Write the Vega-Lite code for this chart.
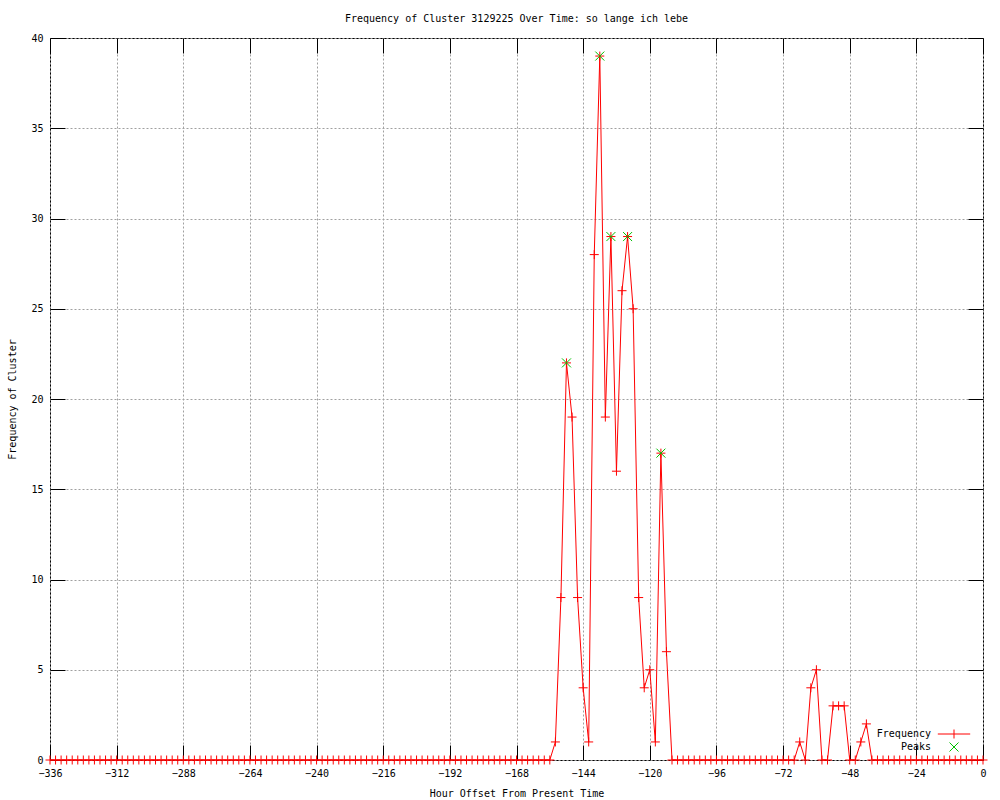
{
  "$schema": "https://vega.github.io/schema/vega-lite/v6.json",
  "width": 933,
  "height": 722,
  "autosize": {"type": "none"},
  "padding": {"left": 50, "top": 38, "right": 17, "bottom": 40},
  "background": "#ffffff",
  "title": {
    "text": "Frequency of Cluster 3129225 Over Time: so lange ich lebe",
    "font": "DejaVu Sans Mono",
    "fontSize": 10,
    "fontWeight": "normal",
    "color": "#000000",
    "anchor": "middle",
    "baseline": "middle",
    "offset": 4
  },
  "config": {
    "view": {"stroke": "#000000", "strokeWidth": 1},
    "font": "DejaVu Sans Mono",
    "axis": {
      "labelFont": "DejaVu Sans Mono",
      "labelFontSize": 10,
      "labelColor": "#000000",
      "titleFont": "DejaVu Sans Mono",
      "titleFontSize": 10,
      "titleFontWeight": "normal",
      "titleColor": "#000000",
      "domain": false,
      "tickColor": "#000000",
      "tickWidth": 1
    }
  },
  "data": {
    "values": [
      {"hour": -336, "count": 0, "series": "Frequency"},
      {"hour": -334, "count": 0, "series": "Frequency"},
      {"hour": -332, "count": 0, "series": "Frequency"},
      {"hour": -330, "count": 0, "series": "Frequency"},
      {"hour": -328, "count": 0, "series": "Frequency"},
      {"hour": -326, "count": 0, "series": "Frequency"},
      {"hour": -324, "count": 0, "series": "Frequency"},
      {"hour": -322, "count": 0, "series": "Frequency"},
      {"hour": -320, "count": 0, "series": "Frequency"},
      {"hour": -318, "count": 0, "series": "Frequency"},
      {"hour": -316, "count": 0, "series": "Frequency"},
      {"hour": -314, "count": 0, "series": "Frequency"},
      {"hour": -312, "count": 0, "series": "Frequency"},
      {"hour": -310, "count": 0, "series": "Frequency"},
      {"hour": -308, "count": 0, "series": "Frequency"},
      {"hour": -306, "count": 0, "series": "Frequency"},
      {"hour": -304, "count": 0, "series": "Frequency"},
      {"hour": -302, "count": 0, "series": "Frequency"},
      {"hour": -300, "count": 0, "series": "Frequency"},
      {"hour": -298, "count": 0, "series": "Frequency"},
      {"hour": -296, "count": 0, "series": "Frequency"},
      {"hour": -294, "count": 0, "series": "Frequency"},
      {"hour": -292, "count": 0, "series": "Frequency"},
      {"hour": -290, "count": 0, "series": "Frequency"},
      {"hour": -288, "count": 0, "series": "Frequency"},
      {"hour": -286, "count": 0, "series": "Frequency"},
      {"hour": -284, "count": 0, "series": "Frequency"},
      {"hour": -282, "count": 0, "series": "Frequency"},
      {"hour": -280, "count": 0, "series": "Frequency"},
      {"hour": -278, "count": 0, "series": "Frequency"},
      {"hour": -276, "count": 0, "series": "Frequency"},
      {"hour": -274, "count": 0, "series": "Frequency"},
      {"hour": -272, "count": 0, "series": "Frequency"},
      {"hour": -270, "count": 0, "series": "Frequency"},
      {"hour": -268, "count": 0, "series": "Frequency"},
      {"hour": -266, "count": 0, "series": "Frequency"},
      {"hour": -264, "count": 0, "series": "Frequency"},
      {"hour": -262, "count": 0, "series": "Frequency"},
      {"hour": -260, "count": 0, "series": "Frequency"},
      {"hour": -258, "count": 0, "series": "Frequency"},
      {"hour": -256, "count": 0, "series": "Frequency"},
      {"hour": -254, "count": 0, "series": "Frequency"},
      {"hour": -252, "count": 0, "series": "Frequency"},
      {"hour": -250, "count": 0, "series": "Frequency"},
      {"hour": -248, "count": 0, "series": "Frequency"},
      {"hour": -246, "count": 0, "series": "Frequency"},
      {"hour": -244, "count": 0, "series": "Frequency"},
      {"hour": -242, "count": 0, "series": "Frequency"},
      {"hour": -240, "count": 0, "series": "Frequency"},
      {"hour": -238, "count": 0, "series": "Frequency"},
      {"hour": -236, "count": 0, "series": "Frequency"},
      {"hour": -234, "count": 0, "series": "Frequency"},
      {"hour": -232, "count": 0, "series": "Frequency"},
      {"hour": -230, "count": 0, "series": "Frequency"},
      {"hour": -228, "count": 0, "series": "Frequency"},
      {"hour": -226, "count": 0, "series": "Frequency"},
      {"hour": -224, "count": 0, "series": "Frequency"},
      {"hour": -222, "count": 0, "series": "Frequency"},
      {"hour": -220, "count": 0, "series": "Frequency"},
      {"hour": -218, "count": 0, "series": "Frequency"},
      {"hour": -216, "count": 0, "series": "Frequency"},
      {"hour": -214, "count": 0, "series": "Frequency"},
      {"hour": -212, "count": 0, "series": "Frequency"},
      {"hour": -210, "count": 0, "series": "Frequency"},
      {"hour": -208, "count": 0, "series": "Frequency"},
      {"hour": -206, "count": 0, "series": "Frequency"},
      {"hour": -204, "count": 0, "series": "Frequency"},
      {"hour": -202, "count": 0, "series": "Frequency"},
      {"hour": -200, "count": 0, "series": "Frequency"},
      {"hour": -198, "count": 0, "series": "Frequency"},
      {"hour": -196, "count": 0, "series": "Frequency"},
      {"hour": -194, "count": 0, "series": "Frequency"},
      {"hour": -192, "count": 0, "series": "Frequency"},
      {"hour": -190, "count": 0, "series": "Frequency"},
      {"hour": -188, "count": 0, "series": "Frequency"},
      {"hour": -186, "count": 0, "series": "Frequency"},
      {"hour": -184, "count": 0, "series": "Frequency"},
      {"hour": -182, "count": 0, "series": "Frequency"},
      {"hour": -180, "count": 0, "series": "Frequency"},
      {"hour": -178, "count": 0, "series": "Frequency"},
      {"hour": -176, "count": 0, "series": "Frequency"},
      {"hour": -174, "count": 0, "series": "Frequency"},
      {"hour": -172, "count": 0, "series": "Frequency"},
      {"hour": -170, "count": 0, "series": "Frequency"},
      {"hour": -168, "count": 0, "series": "Frequency"},
      {"hour": -166, "count": 0, "series": "Frequency"},
      {"hour": -164, "count": 0, "series": "Frequency"},
      {"hour": -162, "count": 0, "series": "Frequency"},
      {"hour": -160, "count": 0, "series": "Frequency"},
      {"hour": -158, "count": 0, "series": "Frequency"},
      {"hour": -156, "count": 0, "series": "Frequency"},
      {"hour": -154, "count": 1, "series": "Frequency"},
      {"hour": -152, "count": 9, "series": "Frequency"},
      {"hour": -150, "count": 22, "series": "Frequency"},
      {"hour": -148, "count": 19, "series": "Frequency"},
      {"hour": -146, "count": 9, "series": "Frequency"},
      {"hour": -144, "count": 4, "series": "Frequency"},
      {"hour": -142, "count": 1, "series": "Frequency"},
      {"hour": -140, "count": 28, "series": "Frequency"},
      {"hour": -138, "count": 39, "series": "Frequency"},
      {"hour": -136, "count": 19, "series": "Frequency"},
      {"hour": -134, "count": 29, "series": "Frequency"},
      {"hour": -132, "count": 16, "series": "Frequency"},
      {"hour": -130, "count": 26, "series": "Frequency"},
      {"hour": -128, "count": 29, "series": "Frequency"},
      {"hour": -126, "count": 25, "series": "Frequency"},
      {"hour": -124, "count": 9, "series": "Frequency"},
      {"hour": -122, "count": 4, "series": "Frequency"},
      {"hour": -120, "count": 5, "series": "Frequency"},
      {"hour": -118, "count": 1, "series": "Frequency"},
      {"hour": -116, "count": 17, "series": "Frequency"},
      {"hour": -114, "count": 6, "series": "Frequency"},
      {"hour": -112, "count": 0, "series": "Frequency"},
      {"hour": -110, "count": 0, "series": "Frequency"},
      {"hour": -108, "count": 0, "series": "Frequency"},
      {"hour": -106, "count": 0, "series": "Frequency"},
      {"hour": -104, "count": 0, "series": "Frequency"},
      {"hour": -102, "count": 0, "series": "Frequency"},
      {"hour": -100, "count": 0, "series": "Frequency"},
      {"hour": -98, "count": 0, "series": "Frequency"},
      {"hour": -96, "count": 0, "series": "Frequency"},
      {"hour": -94, "count": 0, "series": "Frequency"},
      {"hour": -92, "count": 0, "series": "Frequency"},
      {"hour": -90, "count": 0, "series": "Frequency"},
      {"hour": -88, "count": 0, "series": "Frequency"},
      {"hour": -86, "count": 0, "series": "Frequency"},
      {"hour": -84, "count": 0, "series": "Frequency"},
      {"hour": -82, "count": 0, "series": "Frequency"},
      {"hour": -80, "count": 0, "series": "Frequency"},
      {"hour": -78, "count": 0, "series": "Frequency"},
      {"hour": -76, "count": 0, "series": "Frequency"},
      {"hour": -74, "count": 0, "series": "Frequency"},
      {"hour": -72, "count": 0, "series": "Frequency"},
      {"hour": -70, "count": 0, "series": "Frequency"},
      {"hour": -68, "count": 0, "series": "Frequency"},
      {"hour": -66, "count": 1, "series": "Frequency"},
      {"hour": -64, "count": 0, "series": "Frequency"},
      {"hour": -62, "count": 4, "series": "Frequency"},
      {"hour": -60, "count": 5, "series": "Frequency"},
      {"hour": -58, "count": 0, "series": "Frequency"},
      {"hour": -56, "count": 0, "series": "Frequency"},
      {"hour": -54, "count": 3, "series": "Frequency"},
      {"hour": -52, "count": 3, "series": "Frequency"},
      {"hour": -50, "count": 3, "series": "Frequency"},
      {"hour": -48, "count": 0, "series": "Frequency"},
      {"hour": -46, "count": 0, "series": "Frequency"},
      {"hour": -44, "count": 1, "series": "Frequency"},
      {"hour": -42, "count": 2, "series": "Frequency"},
      {"hour": -40, "count": 0, "series": "Frequency"},
      {"hour": -38, "count": 0, "series": "Frequency"},
      {"hour": -36, "count": 0, "series": "Frequency"},
      {"hour": -34, "count": 0, "series": "Frequency"},
      {"hour": -32, "count": 0, "series": "Frequency"},
      {"hour": -30, "count": 0, "series": "Frequency"},
      {"hour": -28, "count": 0, "series": "Frequency"},
      {"hour": -26, "count": 0, "series": "Frequency"},
      {"hour": -24, "count": 0, "series": "Frequency"},
      {"hour": -22, "count": 0, "series": "Frequency"},
      {"hour": -20, "count": 0, "series": "Frequency"},
      {"hour": -18, "count": 0, "series": "Frequency"},
      {"hour": -16, "count": 0, "series": "Frequency"},
      {"hour": -14, "count": 0, "series": "Frequency"},
      {"hour": -12, "count": 0, "series": "Frequency"},
      {"hour": -10, "count": 0, "series": "Frequency"},
      {"hour": -8, "count": 0, "series": "Frequency"},
      {"hour": -6, "count": 0, "series": "Frequency"},
      {"hour": -4, "count": 0, "series": "Frequency"},
      {"hour": -2, "count": 0, "series": "Frequency"},
      {"hour": 0, "count": 0, "series": "Frequency"},
      {"hour": -150, "count": 22, "series": "Peaks"},
      {"hour": -138, "count": 39, "series": "Peaks"},
      {"hour": -134, "count": 29, "series": "Peaks"},
      {"hour": -128, "count": 29, "series": "Peaks"},
      {"hour": -116, "count": 17, "series": "Peaks"}
    ]
  },
  "resolve": {"axis": {"x": "independent", "y": "independent"}},
  "layer": [
    {
      "transform": [{"filter": "datum.series === 'Frequency'"}],
      "mark": {"type": "line", "color": "#ff0000", "strokeWidth": 1, "interpolate": "linear"},
      "encoding": {
        "x": {
          "field": "hour", "type": "quantitative",
          "scale": {"domain": [-336, 0], "nice": false, "zero": false},
          "axis": {
            "orient": "bottom",
            "title": "Hour Offset From Present Time",
            "values": [-336, -312, -288, -264, -240, -216, -192, -168, -144, -120, -96, -72, -48, -24, 0],
            "format": "d",
            "labelFlush": false,
            "labelOverlap": false,
            "tickSize": -15,
            "labelPadding": 23,
            "titlePadding": 10,
            "grid": true,
            "gridColor": "#a0a0a0",
            "gridDash": [2, 2],
            "gridWidth": 1
          }
        },
        "y": {
          "field": "count", "type": "quantitative",
          "scale": {"domain": [0, 40], "nice": false},
          "axis": {
            "orient": "left",
            "title": "Frequency of Cluster",
            "values": [0, 5, 10, 15, 20, 25, 30, 35, 40],
            "format": "d",
            "labelFlush": false,
            "labelOverlap": false,
            "tickSize": -15,
            "labelPadding": 22,
            "titlePadding": 13,
            "grid": true,
            "gridColor": "#a0a0a0",
            "gridDash": [2, 2],
            "gridWidth": 1
          }
        }
      }
    },
    {
      "layer": [
        {
          "transform": [{"filter": "datum.series === 'Frequency'"}],
          "mark": {"type": "point", "filled": false, "strokeWidth": 1, "opacity": 1, "size": 81, "color": "#ff0000", "shape": "M-1,0L1,0M0,-1L0,1"},
          "encoding": {
            "x": {
              "field": "hour", "type": "quantitative",
              "axis": {
                "orient": "top", "title": null, "labels": false, "grid": false, "offset": -15,
                "values": [-336, -312, -288, -264, -240, -216, -192, -168, -144, -120, -96, -72, -48, -24, 0],
                "tickSize": 15
              }
            },
            "y": {
              "field": "count", "type": "quantitative",
              "axis": {
                "orient": "right", "title": null, "labels": false, "grid": false, "offset": -15,
                "values": [0, 5, 10, 15, 20, 25, 30, 35, 40],
                "tickSize": 15
              }
            }
          }
        },
        {
          "transform": [{"filter": "datum.series === 'Peaks'"}],
          "mark": {"type": "point", "filled": false, "strokeWidth": 1, "opacity": 1, "size": 81, "color": "#00c000", "shape": "M-1,-1L1,1M-1,1L1,-1"},
          "encoding": {
            "x": {
              "field": "hour", "type": "quantitative",
              "axis": {
                "orient": "top", "title": null, "labels": false, "grid": false, "offset": -15,
                "values": [-336, -312, -288, -264, -240, -216, -192, -168, -144, -120, -96, -72, -48, -24, 0],
                "tickSize": 15
              }
            },
            "y": {
              "field": "count", "type": "quantitative",
              "axis": {
                "orient": "right", "title": null, "labels": false, "grid": false, "offset": -15,
                "values": [0, 5, 10, 15, 20, 25, 30, 35, 40],
                "tickSize": 15
              }
            }
          }
        },
        {
          "mark": {"type": "point", "filled": false, "strokeWidth": 1, "opacity": 0, "size": 81},
          "encoding": {
            "x": {
              "field": "hour", "type": "quantitative",
              "axis": {
                "orient": "top", "title": null, "labels": false, "grid": false, "offset": -15,
                "values": [-336, -312, -288, -264, -240, -216, -192, -168, -144, -120, -96, -72, -48, -24, 0],
                "tickSize": 15
              }
            },
            "y": {
              "field": "count", "type": "quantitative",
              "axis": {
                "orient": "right", "title": null, "labels": false, "grid": false, "offset": -15,
                "values": [0, 5, 10, 15, 20, 25, 30, 35, 40],
                "tickSize": 15
              }
            },
            "color": {
              "field": "series", "type": "nominal",
              "scale": {"domain": ["Frequency", "Peaks"], "range": ["#ff0000", "#00c000"]},
              "legend": {
                "title": null,
                "orient": "none",
                "legendX": 899,
                "legendY": 691,
                "padding": 0,
                "labelAlign": "right",
                "labelOffset": -28,
                "labelFont": "DejaVu Sans Mono",
                "labelFontSize": 10,
                "labelColor": "#000000",
                "symbolSize": 81,
                "symbolStrokeWidth": 1,
                "symbolOpacity": 1,
                "symbolFillColor": "transparent",
                "rowPadding": -1
              }
            },
            "shape": {
              "field": "series", "type": "nominal",
              "scale": {"domain": ["Frequency", "Peaks"], "range": ["M-3.6,0L3.6,0M0,-1L0,1", "M-1,-1L1,1M-1,1L1,-1"]}
            }
          }
        }
      ]
    }
  ]
}
